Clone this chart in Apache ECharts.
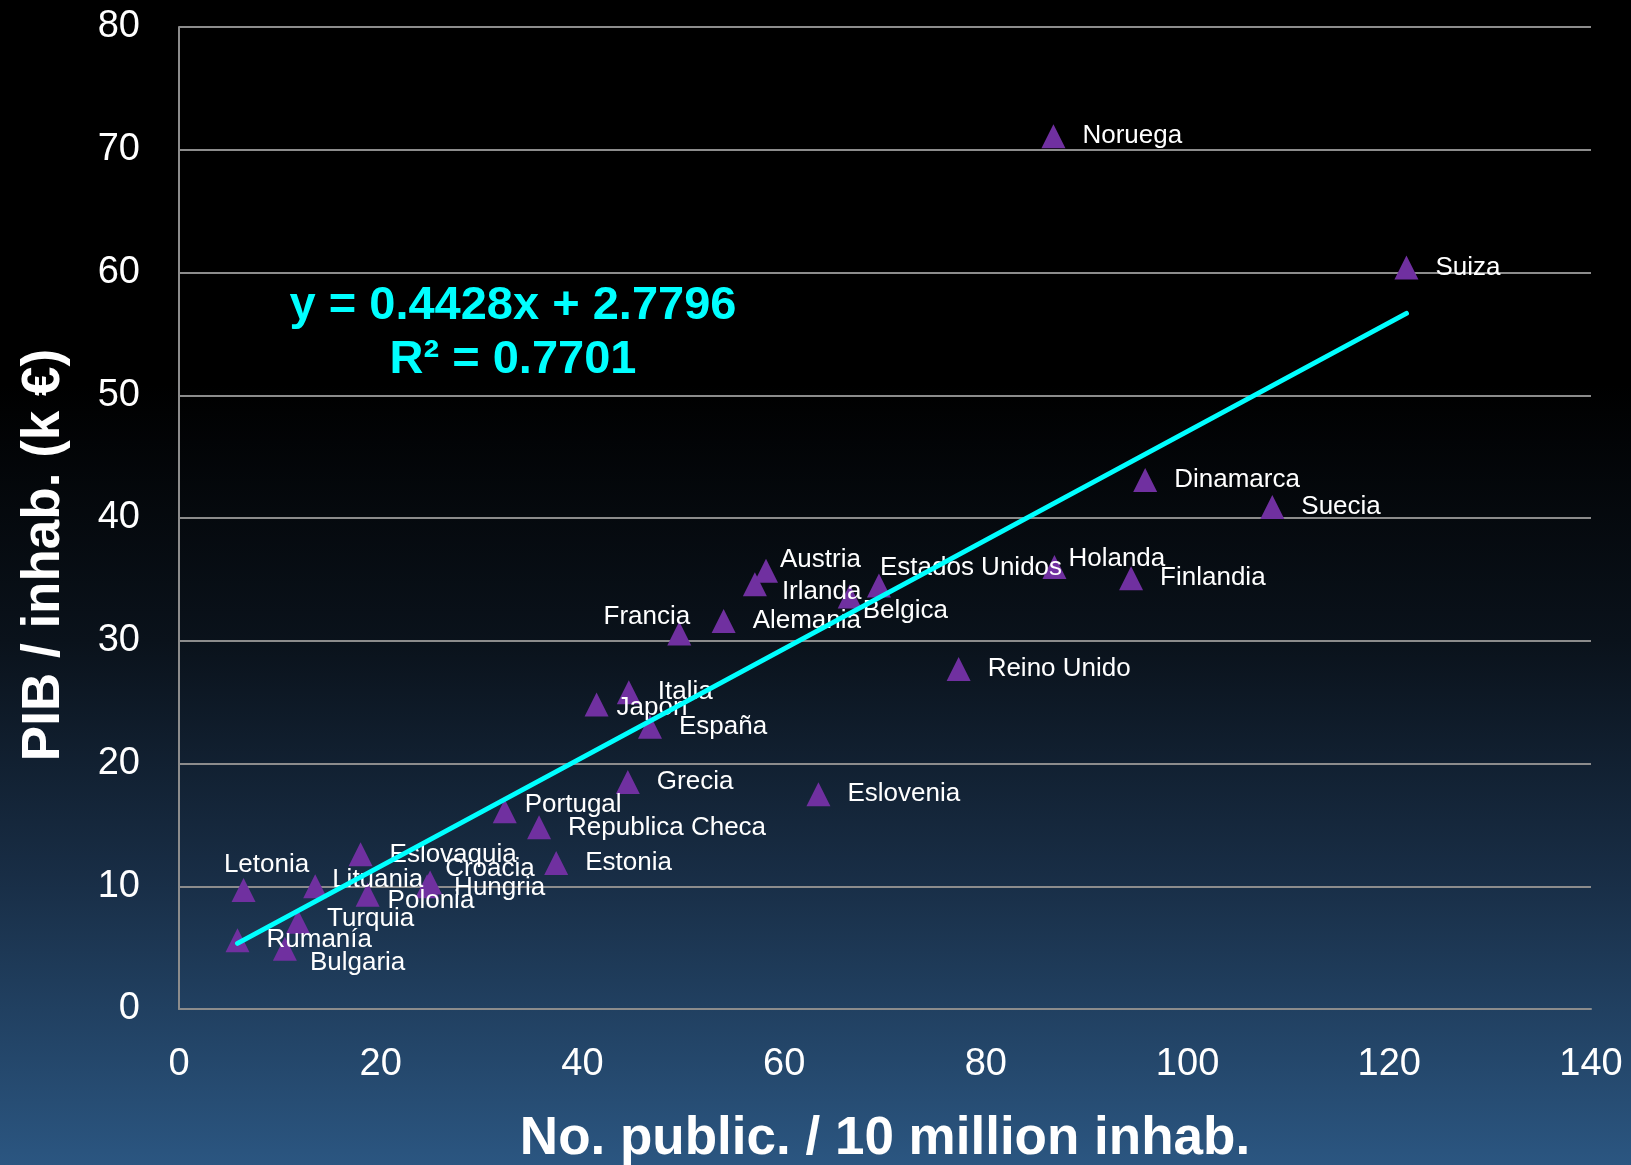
<!DOCTYPE html>
<html>
<head>
<meta charset="utf-8">
<script src="https://cdn.jsdelivr.net/npm/echarts@6/dist/echarts.min.js"></script>
<style>
html,body{margin:0;padding:0;width:100%;height:100%;background:#000;}
#chart{width:1631px;height:1165px;}
</style>
</head>
<body>
<div id="chart"></div>
<script>
// ---- Data ----
const countries = ["Noruega","Suiza","Dinamarca","Suecia","Holanda","Finlandia","Estados Unidos","Austria","Irlanda","Belgica","Alemania","Francia","Reino Unido","Italia","Japon","España","Grecia","Eslovenia","Portugal","Republica Checa","Estonia","Eslovaquia","Croacia","Hungria","Letonia","Lituania","Polonia","Turquia","Rumanía","Bulgaria"];
const publications = [86.7,121.7,95.8,108.4,86.8,94.4,69.4,58.2,57.1,66.5,54.0,49.6,77.3,44.6,41.4,46.7,44.5,63.4,32.3,35.7,37.4,18.0,24.9,24.6,6.4,13.5,18.7,11.8,5.8,10.5];
const gdpPerInhab = [71.1,60.4,43.1,40.9,36.0,35.1,34.5,35.7,34.6,33.6,31.6,30.6,27.7,25.8,24.8,23.0,18.5,17.5,16.1,14.8,11.9,12.6,10.3,10.0,9.7,10.0,9.3,7.1,5.6,4.9];
const trendX = [5.8, 121.7];
const trendY = [5.35, 56.67];
const equationLines = ["y = 0.4428x + 2.7796", "R² = 0.7701"];
const xTicks = [0,20,40,60,80,100,120,140];
const yTicks = [0,10,20,30,40,50,60,70,80];
const xTitle = "No. public. / 10 million inhab.";
const yTitle = "PIB / inhab. (k €)";

// ---- Label placement (styling only) ----
const labelStyle = {
  "Holanda": {offset:[-15,-8]},
  "Estados Unidos": {offset:[-28,-18]},
  "Austria": {offset:[-15,-11]},
  "Irlanda": {offset:[-2,8]},
  "Belgica": {offset:[-16,14]},
  "Francia": {position:"left", offset:[40,-17]},
  "Japon": {offset:[-9,3]},
  "Portugal": {offset:[-9,-7]},
  "Croacia": {offset:[-14,-14]},
  "Hungria": {offset:[-2,2]},
  "Letonia": {position:"top", offset:[23,17]},
  "Lituania": {offset:[-12,-6]},
  "Polonia": {offset:[-9,6]},
  "Turquia": {offset:[0,-3]},
  "Bulgaria": {offset:[-4,14]}
};

const FONT = "'Liberation Sans', Arial, sans-serif";
const points = countries.map((c,i)=>{
  const ls = labelStyle[c] || {};
  return {
    name: c,
    value: [publications[i], gdpPerInhab[i]],
    label: {position: ls.position || "right", offset: ls.offset || [0,0]}
  };
});

const chart = echarts.init(document.getElementById('chart'));
chart.setOption({
  backgroundColor: {
    type:'linear', x:0, y:0, x2:0, y2:1,
    colorStops:[
      {offset:0, color:'#000000'},
      {offset:0.33, color:'#000000'},
      {offset:0.55, color:'#0a121b'},
      {offset:0.75, color:'#182d45'},
      {offset:1, color:'#2b5681'}
    ]
  },
  animation:false,
  grid:{left:179, right:40, top:27, bottom:156, containLabel:false, outerBoundsMode:'none'},
  xAxis:{
    type:'value', min:xTicks[0], max:xTicks[xTicks.length-1], interval:20,
    axisLine:{show:true, lineStyle:{color:'#8c8c8c', width:2}},
    axisTick:{show:false},
    splitLine:{show:false},
    axisLabel:{color:'#ffffff', fontSize:38, fontFamily:FONT, margin:37},
    name:xTitle, nameLocation:'middle', nameGap:104,
    nameTextStyle:{color:'#ffffff', fontSize:53, fontWeight:'bold', fontFamily:FONT}
  },
  yAxis:{
    type:'value', min:yTicks[0], max:yTicks[yTicks.length-1], interval:10,
    axisLine:{show:true, lineStyle:{color:'#8c8c8c', width:2}},
    axisTick:{show:false},
    splitLine:{show:true, lineStyle:{color:'#8c8c8c', width:2}},
    axisLabel:{color:'#ffffff', fontSize:38, fontFamily:FONT, margin:39},
    name:yTitle, nameLocation:'middle', nameGap:108, nameRotate:90,
    nameTextStyle:{color:'#ffffff', fontSize:53, fontWeight:'bold', fontFamily:FONT, padding:[0,74,0,0]}
  },
  series:[
    {
      type:'line',
      data: trendX.map((x,i)=>[x, trendY[i]]),
      symbol:'none',
      lineStyle:{color:'#00ffff', width:5, cap:'round'},
      z:3
    },
    {
      type:'scatter',
      data: points,
      symbol:'triangle',
      symbolSize:24,
      itemStyle:{color:'#7030a0', opacity:1},
      label:{show:true, formatter:'{b}', color:'#ffffff', fontSize:26, fontFamily:FONT, distance:17},
      z:2
    }
  ],
  graphic:[
    {type:'text', z:10,
     style:{text:equationLines[0], fill:'#00ffff', font:'bold 47px ' + FONT, textAlign:'center', textVerticalAlign:'middle'},
     position:[513,306]},
    {type:'text', z:10,
     style:{text:equationLines[1], fill:'#00ffff', font:'bold 47px ' + FONT, textAlign:'center', textVerticalAlign:'middle'},
     position:[513,360]}
  ]
});
</script>
</body>
</html>
